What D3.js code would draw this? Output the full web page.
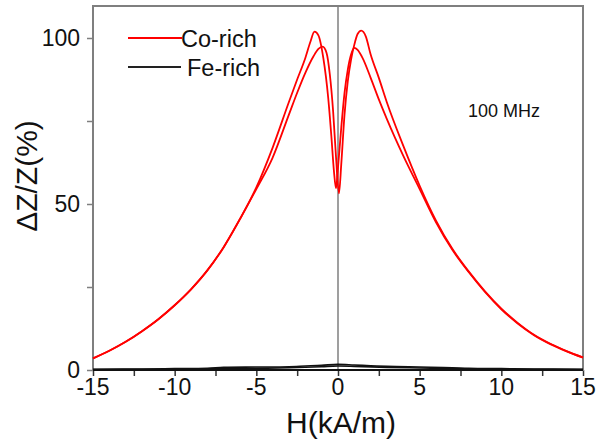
<!DOCTYPE html>
<html><head><meta charset="utf-8">
<script src="https://cdn.jsdelivr.net/npm/d3@7"></script>
<style>body{margin:0;background:#fff}svg{display:block}text{font-family:"Liberation Sans",Arial,sans-serif;fill:#111}</style>
</head><body><svg id="c" width="596" height="442"></svg>
<script>
// Co-rich, branch A (high peak on negative side)
const coA_H = [-15,-14,-13,-12,-11,-10,-9,-8,-7,-6,-5,-4,-3,-2.5,-2,-1.7,-1.44,-1.2,-0.9,-0.6,-0.4,-0.25,-0.12,0,0.2,0.4,0.6,0.8,1.0,1.2,1.5,2,2.5,3,4,5,6,7,8,9,10,11,12,13,14,15];
const coA_Z = [3.5,5.8,8.5,11.7,15.3,19.5,24.3,30,37,45.5,55,67,80.8,87.5,94,98.7,101.9,100.8,94,82,70,60,54.7,61,73,83.5,90.5,95,97,96.4,94,88,81.5,75.5,64.5,54.5,44.5,36.2,29.5,23.5,18.3,14,10.5,7.8,5.6,3.7];
// Co-rich, branch B (high peak on positive side)
const coB_H = [-15,-14,-13,-12,-11,-10,-9,-8,-7,-6,-5,-4,-3,-2.5,-2,-1.5,-1.2,-0.94,-0.7,-0.5,-0.3,-0.12,0.06,0.2,0.4,0.6,0.8,1.0,1.2,1.42,1.7,2,2.5,3,4,5,6,7,8,9,10,11,12,13,14,15];
const coB_Z = [3.5,5.8,8.5,11.7,15.3,19.5,24.3,30,37,45.5,54.5,64,77,83.5,89.5,94.5,96.7,97.4,95.5,89,78,64,53.2,62,77,87,93.5,98,101.2,102.2,100.5,95,88,80.5,67.5,55.5,45,36.5,29.7,23.7,18.5,14.2,10.6,7.9,5.7,3.8];
// Fe-rich branches
const fe1_H = [-15,-12,-10,-8,-7,-5,-3,-2,-1,0,1,2,3,5,7,8,10,12,15];
const fe1_Z = [0.2,0.3,0.4,0.5,0.8,0.9,1.0,1.2,1.4,1.7,1.5,1.3,1.1,0.9,0.7,0.5,0.4,0.3,0.2];
const fe2_H = [-15,-10,-7,-5,-3,-1,0,1,3,5,7,10,15];
const fe2_Z = [0.1,0.2,0.4,0.5,0.7,1.0,1.2,1.1,0.8,0.6,0.4,0.2,0.1];
const xTicks = [-15,-10,-5,0,5,10,15];
const yTicks = [0,50,100];
const legendLabels = ["Co-rich","Fe-rich"];
const note = "100 MHz";

const svg = d3.select("#c");
const L=93, R=583, T=6, B=370;
const x = d3.scaleLinear().domain([-15,15]).range([L,R]);
const y = d3.scaleLinear().domain([0,100]).range([B,38]);
const axisCol = "#7f7f7f";

// ticks
const gx = svg.append("g").attr("transform",`translate(0,${B})`)
  .call(d3.axisBottom(x).tickValues(d3.range(-15,15.01,2.5)).tickSize(6).tickFormat(""));
gx.selectAll("line").attr("stroke","#333").attr("stroke-width",1.5);
gx.select(".domain").remove();
const gy = svg.append("g").attr("transform",`translate(${L},0)`)
  .call(d3.axisLeft(y).tickValues([0,25,50,75,100]).tickSize(6).tickFormat(""));
gy.selectAll("line").attr("stroke",axisCol).attr("stroke-width",1.5);
gy.select(".domain").remove();

// tick labels
svg.selectAll(".xl").data(xTicks).enter().append("text")
  .attr("x",d=>x(d)).attr("y",395).attr("text-anchor","middle")
  .attr("font-size",23).text(d=>d);
svg.selectAll(".yl").data(yTicks).enter().append("text")
  .attr("x",80).attr("y",d=>y(d)+8).attr("text-anchor","end")
  .attr("font-size",23).text(d=>d);

// box
svg.append("rect").attr("x",L).attr("y",T).attr("width",R-L).attr("height",B-T)
  .attr("fill","none").attr("stroke",axisCol).attr("stroke-width",2);
// zero line
svg.append("line").attr("x1",x(0)).attr("x2",x(0)).attr("y1",T).attr("y2",B)
  .attr("stroke",axisCol).attr("stroke-width",1.5);

const line = d3.line().x(d=>x(d[0])).y(d=>y(d[1])).curve(d3.curveMonotoneX);
const zip=(a,b)=>a.map((v,i)=>[v,b[i]]);
svg.append("path").datum(zip(fe2_H,fe2_Z)).attr("d",line).attr("fill","none").attr("stroke","#111").attr("stroke-width",1.6);
svg.append("path").datum(zip(fe1_H,fe1_Z)).attr("d",line).attr("fill","none").attr("stroke","#111").attr("stroke-width",1.6);
svg.append("line").attr("x1",L).attr("x2",R).attr("y1",y(0)).attr("y2",y(0)).attr("stroke","#111").attr("stroke-width",2);
svg.append("path").datum(zip(coA_H,coA_Z)).attr("d",line).attr("fill","none").attr("stroke","#ff0000").attr("stroke-width",1.8);
svg.append("path").datum(zip(coB_H,coB_Z)).attr("d",line).attr("fill","none").attr("stroke","#ff0000").attr("stroke-width",1.8);

// legend
svg.append("line").attr("x1",128).attr("x2",182).attr("y1",38).attr("y2",38).attr("stroke","#ff0000").attr("stroke-width",1.8);
svg.append("text").attr("x",181).attr("y",47).attr("font-size",23.5).text(legendLabels[0]);
svg.append("line").attr("x1",128).attr("x2",181).attr("y1",67).attr("y2",67).attr("stroke","#222").attr("stroke-width",1.8);
svg.append("text").attr("x",187).attr("y",76).attr("font-size",23.5).text(legendLabels[1]);

svg.append("text").attr("x",468).attr("y",117).attr("font-size",18).text(note);

// axis titles
svg.append("text").attr("x",x(0)+3).attr("y",433).attr("text-anchor","middle").attr("font-size",30).text("H(kA/m)");
svg.append("text").attr("transform","translate(37,176) rotate(-90)").attr("text-anchor","middle").attr("font-size",30).text("ΔZ/Z(%)");
</script></body></html>
